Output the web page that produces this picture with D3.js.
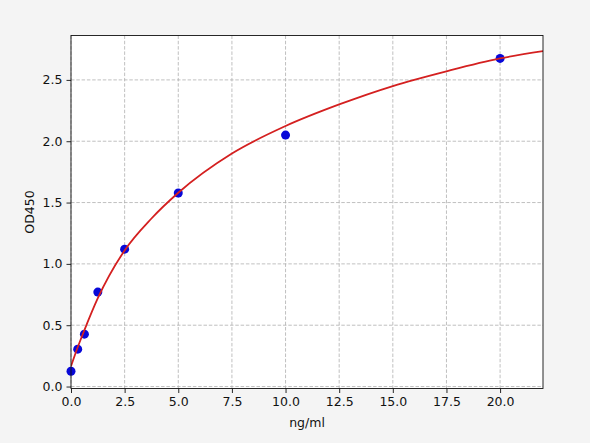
<!DOCTYPE html>
<html>
<head>
<meta charset="utf-8">
<script src="https://cdn.jsdelivr.net/npm/d3@7"></script>
<style>
  body { margin: 0; background: #f4f4f4; }
  svg { display: block; font-family: "DejaVu Sans", sans-serif; }
</style>
</head>
<body>
<div id="chart"></div>
<script>
// Standard points (concentration ng/ml vs OD450)
const concentrations = [0, 0.3125, 0.625, 1.25, 2.5, 5, 10, 20];
const odValues = [0.125, 0.305, 0.427, 0.77, 1.12, 1.578, 2.05, 2.675];

// Fitted curve
const curveX = [0, 0.3125, 0.625, 1.25, 2.5, 3.75, 5, 7.5, 10, 12.5, 15, 17.5, 20, 22];
const curveY = [0.165, 0.32, 0.46, 0.72, 1.11, 1.37, 1.58, 1.9, 2.124, 2.3, 2.45, 2.57, 2.675, 2.734];

const xTicks = [0, 2.5, 5, 7.5, 10, 12.5, 15, 17.5, 20];
const yTicks = [0, 0.5, 1, 1.5, 2, 2.5];

const width = 590, height = 443;
const margin = { top: 35.5, right: 47, bottom: 54.5, left: 71 };

const svg = d3.select("#chart").append("svg")
    .attr("width", width)
    .attr("height", height);

svg.append("rect")
    .attr("width", width)
    .attr("height", height)
    .attr("fill", "#f4f4f4");

const x = d3.scaleLinear().domain([0, 22]).range([margin.left, width - margin.right]);
const y = d3.scaleLinear().domain([-0.016, 2.862]).range([height - margin.bottom, margin.top]);

// Plot background
svg.append("rect")
    .attr("x", margin.left)
    .attr("y", margin.top)
    .attr("width", width - margin.left - margin.right)
    .attr("height", height - margin.top - margin.bottom)
    .attr("fill", "white");

// Grid
const grid = svg.append("g")
    .attr("stroke", "#b0b0b0")
    .attr("stroke-width", 0.8)
    .attr("stroke-dasharray", "3.5,1.8");

grid.selectAll(".vg").data(xTicks).enter()
    .append("line")
    .attr("x1", d => x(d)).attr("x2", d => x(d))
    .attr("y1", margin.top).attr("y2", height - margin.bottom);

grid.selectAll(".hg").data(yTicks).enter()
    .append("line")
    .attr("y1", d => y(d)).attr("y2", d => y(d))
    .attr("x1", margin.left).attr("x2", width - margin.right);

// Clip for the curve
svg.append("clipPath").attr("id", "clip")
    .append("rect")
    .attr("x", margin.left)
    .attr("y", margin.top)
    .attr("width", width - margin.left - margin.right)
    .attr("height", height - margin.top - margin.bottom);

// Points (drawn under the curve)
svg.append("g")
    .selectAll("circle")
    .data(concentrations.map((v, i) => [v, odValues[i]]))
    .enter()
    .append("circle")
    .attr("cx", d => x(d[0]))
    .attr("cy", d => y(d[1]))
    .attr("r", 4.5)
    .attr("fill", "#0808d8");

const line = d3.line()
    .x(d => x(d[0]))
    .y(d => y(d[1]))
    .curve(d3.curveMonotoneX);

svg.append("path")
    .datum(curveX.map((v, i) => [v, curveY[i]]))
    .attr("clip-path", "url(#clip)")
    .attr("fill", "none")
    .attr("stroke", "#d42020")
    .attr("stroke-width", 1.8)
    .attr("d", line);

// Axes
const xAxis = svg.append("g")
    .attr("transform", `translate(0,${height - margin.bottom})`)
    .call(d3.axisBottom(x).tickValues(xTicks).tickFormat(d3.format(".1f")).tickSize(4.5).tickPadding(4));

const yAxis = svg.append("g")
    .attr("transform", `translate(${margin.left},0)`)
    .call(d3.axisLeft(y).tickValues(yTicks).tickFormat(d3.format(".1f")).tickSize(4.5).tickPadding(4));

[xAxis, yAxis].forEach(a => {
    a.select(".domain").remove();
    a.selectAll("text").attr("font-size", 12.5).attr("fill", "#111").attr("font-family", "DejaVu Sans");
    a.selectAll("line").attr("stroke", "#111").attr("stroke-width", 0.9);
});

// Frame
svg.append("rect")
    .attr("x", margin.left)
    .attr("y", margin.top)
    .attr("width", width - margin.left - margin.right)
    .attr("height", height - margin.top - margin.bottom)
    .attr("fill", "none")
    .attr("stroke", "#111")
    .attr("stroke-width", 0.9);

// Axis labels
svg.append("text")
    .attr("x", x(11))
    .attr("y", 427)
    .attr("text-anchor", "middle")
    .attr("font-size", 12.5)
    .attr("fill", "#111")
    .text("ng/ml");

svg.append("text")
    .attr("transform", `translate(34,${(margin.top + height - margin.bottom) / 2}) rotate(-90)`)
    .attr("text-anchor", "middle")
    .attr("font-size", 12.5)
    .attr("fill", "#111")
    .text("OD450");
</script>
</body>
</html>
